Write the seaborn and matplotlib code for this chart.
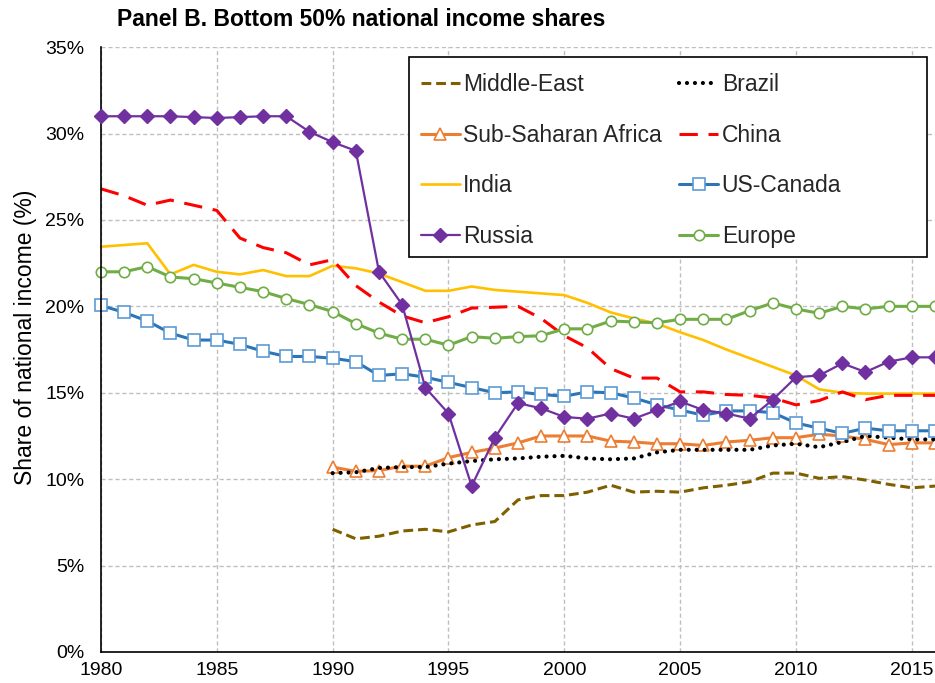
import matplotlib
matplotlib.use("Agg")
import matplotlib.pyplot as plt
from matplotlib.patches import Rectangle
from matplotlib.ticker import FuncFormatter, MultipleLocator
import seaborn as sns
import pandas as pd

# Bottom 50% national income shares (%).
years = list(range(1980, 2017))
years_from_1990 = list(range(1990, 2017))

middle_east = [7.1, 6.55, 6.7, 7.0, 7.1, 6.95, 7.35, 7.55, 8.8, 9.05, 9.05, 9.25, 9.65, 9.25,
               9.3, 9.25, 9.5, 9.65, 9.85, 10.35, 10.35, 10.05, 10.15, 9.95, 9.7, 9.5, 9.6]
sub_saharan = [10.7, 10.45, 10.5, 10.75, 10.75, 11.25, 11.55, 11.8, 12.1, 12.5, 12.5, 12.5, 12.2, 12.15,
               12.05, 12.05, 11.95, 12.15, 12.25, 12.4, 12.4, 12.6, 12.5, 12.3, 12.0, 12.1, 12.1]
brazil = [10.35, 10.4, 10.65, 10.7, 10.7, 10.9, 11.05, 11.15, 11.2, 11.3, 11.35, 11.2, 11.15, 11.2,
          11.55, 11.7, 11.7, 11.7, 11.7, 11.95, 12.05, 11.85, 12.15, 12.5, 12.4, 12.3, 12.3]
india = [23.45, 23.55, 23.65, 21.85, 22.4, 22.0, 21.85, 22.1, 21.75, 21.75,
         22.35, 22.2, 21.9, 21.4, 20.9, 20.9, 21.15, 20.95, 20.85, 20.75, 20.65, 20.2, 19.65, 19.3,
         19.0, 18.5, 18.05, 17.5, 17.0, 16.5, 16.0, 15.2, 15.0, 14.95, 14.95, 14.95, 14.95]
russia = [31.0, 31.0, 31.0, 31.0, 30.95, 30.9, 30.95, 31.0, 31.0, 30.1,
          29.5, 29.0, 22.0, 20.1, 15.3, 13.8, 9.6, 12.4, 14.4, 14.1, 13.6, 13.5, 13.8, 13.5,
          14.0, 14.5, 14.0, 13.8, 13.5, 14.6, 15.9, 16.0, 16.7, 16.2, 16.8, 17.05, 17.05]
china = [26.8, 26.4, 25.85, 26.15, 25.85, 25.55, 23.95, 23.4, 23.1, 22.4,
         22.7, 21.2, 20.25, 19.45, 19.05, 19.4, 19.9, 19.95, 20.0, 19.3, 18.3, 17.6, 16.4, 15.85,
         15.85, 15.05, 15.05, 14.9, 14.85, 14.7, 14.3, 14.55, 15.05, 14.6, 14.85, 14.85, 14.85]
us_canada = [20.05, 19.65, 19.15, 18.45, 18.05, 18.05, 17.8, 17.4, 17.1, 17.1,
             17.0, 16.8, 16.0, 16.1, 15.9, 15.6, 15.3, 15.0, 15.05, 14.9, 14.8, 15.05, 15.0, 14.7,
             14.3, 14.0, 13.7, 13.95, 13.95, 13.85, 13.25, 12.95, 12.65, 12.95, 12.8, 12.8, 12.8]
europe = [22.0, 22.0, 22.3, 21.7, 21.6, 21.35, 21.1, 20.85, 20.45, 20.1,
          19.7, 19.0, 18.45, 18.1, 18.1, 17.75, 18.25, 18.15, 18.25, 18.3, 18.7, 18.7, 19.15, 19.1,
          19.05, 19.25, 19.25, 19.25, 19.75, 20.2, 19.85, 19.6, 20.0, 19.85, 20.0, 20.0, 20.0]

sns.set_theme(style="white")
plt.rcParams["font.family"] = ["Liberation Sans", "DejaVu Sans"]

fig = plt.figure(figsize=(9.35, 6.83), dpi=100)
ax = fig.add_axes([0.108, 0.0454, 0.892, 0.8856])

# (label, x, y, line options) in legend order
series = [
    ("Middle-East", years_from_1990, middle_east,
     dict(color="#7F6000", linewidth=2.2, linestyle=(0, (3.2, 1.6)))),
    ("Sub-Saharan Africa", years_from_1990, sub_saharan,
     dict(color="#ED7D31", linewidth=2.2, marker="^", markersize=8.5,
          markerfacecolor="white", markeredgecolor="#ED7D31", markeredgewidth=1.2)),
    ("India", years, india,
     dict(color="#FFC000", linewidth=1.9)),
    ("Russia", years, russia,
     dict(color="#7030A0", linewidth=1.6, marker="D", markersize=7.5,
          markerfacecolor="#7030A0", markeredgecolor="#7030A0", markeredgewidth=1, zorder=4)),
    ("Brazil", years_from_1990, brazil,
     dict(color="black", linewidth=3, linestyle=(0, (0.01, 1.9)), dash_capstyle="round")),
    ("China", years, china,
     dict(color="#FF0000", linewidth=2.2, linestyle=(0, (6, 3.5)))),
    ("US-Canada", years, us_canada,
     dict(color="#2E75B6", linewidth=2.2, marker="s", markersize=9,
          markerfacecolor="white", markeredgecolor="#5B9BD5", markeredgewidth=1.2)),
    ("Europe", years, europe,
     dict(color="#70AD47", linewidth=2.2, marker="o", markersize=7.5,
          markerfacecolor="white", markeredgecolor="#70AD47", markeredgewidth=1.2)),
]

for label, xs, ys, style in series:
    df = pd.DataFrame({"year": xs, "share": ys})
    sns.lineplot(data=df, x="year", y="share", ax=ax, label=label,
                 errorbar=None, clip_on=False, **style)

ax.set_xlim(1980, 2016)
ax.set_ylim(0, 35)
ax.xaxis.set_major_locator(MultipleLocator(5))
ax.yaxis.set_major_locator(MultipleLocator(5))
ax.yaxis.set_major_formatter(FuncFormatter(lambda v, p: f"{v:.0f}%"))

ax.grid(True, color="#BFBFBF", linestyle=(0, (3, 2)), linewidth=1)
ax.set_axisbelow(True)
for side in ["top", "right"]:
    ax.spines[side].set_visible(False)
for side in ["left", "bottom"]:
    ax.spines[side].set_color("black")
    ax.spines[side].set_linewidth(1.2)
ax.tick_params(axis="both", direction="inout", length=8, width=1.2, color="black",
               labelsize=14, labelcolor="black")
ax.tick_params(axis="y", pad=8)
ax.tick_params(axis="x", pad=3)

ax.set_xlabel("")
ax.set_ylabel("Share of national income (%)", fontsize=16.5, color="black")
ax.yaxis.set_label_coords(-0.077, 0.52)

# Excel-style legend box, wider than its contents
box_x0, box_y0, box_w, box_h = 0.3693, 0.6529, 0.6211, 0.3306
ax.add_patch(Rectangle((box_x0, box_y0), box_w, box_h, transform=ax.transAxes,
                       facecolor="white", edgecolor="black", linewidth=1.2,
                       zorder=5, clip_on=False))
leg = ax.legend(loc="upper left", bbox_to_anchor=(box_x0 + 0.002, box_y0 + box_h - 0.0099),
                ncol=2, fontsize=16.5, frameon=False, borderaxespad=0, borderpad=0.45,
                handlelength=1.7, handletextpad=0.15, columnspacing=0.75,
                labelspacing=1.2)
leg.set_zorder(6)

fig.text(0.125, 1 - 20 / 683, "Panel B. Bottom 50% national income shares",
         fontsize=16.5, fontweight="bold", ha="left", va="center", color="black")

fig.savefig("out.png", dpi=100)
